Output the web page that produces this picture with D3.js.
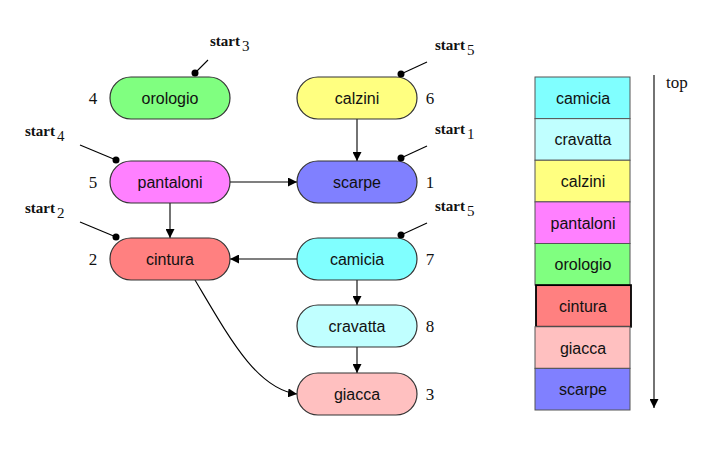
<!DOCTYPE html>
<html lang="en">
<head>
<meta charset="utf-8">
<script src="https://cdnjs.cloudflare.com/ajax/libs/d3/7.8.5/d3.min.js"></script>
<style>
body { margin: 0; background: #fff; }
.lbl { font-family: "Liberation Sans", Arial, sans-serif; font-size: 16px; fill: #111; }
.num { font-family: "Liberation Serif", "DejaVu Serif", serif; font-size: 17px; fill: #111; }
.st { font-family: "Liberation Serif", serif; font-size: 15px; font-weight: bold; fill: #111; }
.sub { font-family: "Liberation Serif", serif; font-size: 15px; fill: #111; }
</style>
</head>
<body>
<script>
// graph nodes
var names  = ["orologio", "calzini", "pantaloni", "scarpe", "cintura", "camicia", "cravatta", "giacca"];
var colors = ["#80ff80", "#ffff80", "#ff80ff", "#8080ff", "#ff8080", "#80ffff", "#c0ffff", "#ffc0c0"];
var col    = [0, 1, 0, 1, 0, 1, 1, 1];
var row    = [0, 0, 1, 1, 2, 2, 3, 4];
var finish = [4, 6, 5, 1, 2, 7, 8, 3];
var start  = [3, 5, 4, 1, 2, 5, null, null];
var edges  = [["calzini", "scarpe"], ["pantaloni", "scarpe"], ["pantaloni", "cintura"],
              ["camicia", "cintura"], ["camicia", "cravatta"], ["cravatta", "giacca"], ["cintura", "giacca"]];
// stack (top first)
var stack  = ["camicia", "cravatta", "calzini", "pantaloni", "orologio", "cintura", "giacca", "scarpe"];

var svg = d3.select("body").append("svg").attr("width", 722).attr("height", 476);

svg.append("defs").append("marker").attr("id", "ar")
  .attr("viewBox", "0 0 10 10").attr("refX", 10).attr("refY", 5)
  .attr("markerWidth", 9).attr("markerHeight", 9).attr("orient", "auto")
  .attr("markerUnits", "userSpaceOnUse")
  .append("path").attr("d", "M0,0 L10,5 L0,10 z").attr("fill", "#000");

var x = d3.scalePoint().domain([0, 1]).range([170, 357]);
var y = d3.scaleLinear().domain([0, 1, 2, 3, 4]).range([98, 182, 259, 326, 394]);
var W = 120, H = 42;
var nodes = names.map(function(n, i) {
  return {name: n, color: colors[i], x: x(col[i]), y: y(row[i]), f: finish[i], s: start[i], c: col[i]};
});
var byName = {};
nodes.forEach(function(d) { byName[d.name] = d; });

// edges
edges.forEach(function(e) {
  var a = byName[e[0]], b = byName[e[1]], path;
  if (e[0] == "cintura" && e[1] == "giacca") {
    path = "M" + (a.x + 25) + "," + (a.y + H / 2) + " C" + (a.x + 60) + "," + (a.y + 80) + " " + (b.x - 100) + "," + (b.y - 5) + " " + (b.x - W / 2) + "," + b.y;
  } else if (a.y == b.y) {
    var dir = b.x > a.x ? 1 : -1;
    path = "M" + (a.x + dir * W / 2) + "," + a.y + " L" + (b.x - dir * W / 2) + "," + b.y;
  } else {
    path = "M" + a.x + "," + (a.y + H / 2) + " L" + b.x + "," + (b.y - H / 2);
  }
  svg.append("path").attr("d", path).attr("fill", "none").attr("stroke", "#000")
    .attr("stroke-width", 1.1).attr("marker-end", "url(#ar)");
});

var g = svg.selectAll("g.node").data(nodes).enter().append("g")
  .attr("transform", function(d) { return "translate(" + d.x + "," + d.y + ")"; });
g.append("rect").attr("x", -W / 2).attr("y", -H / 2).attr("width", W).attr("height", H)
  .attr("rx", 21).attr("fill", function(d) { return d.color; })
  .attr("stroke", "#333").attr("stroke-width", 1.2);
g.append("text").attr("class", "lbl").attr("text-anchor", "middle").attr("dy", 6)
  .text(function(d) { return d.name; });
g.append("text").attr("class", "num").attr("text-anchor", "middle").attr("dy", 6)
  .attr("x", function(d) { return d.c == 0 ? -W / 2 - 17 : W / 2 + 13; })
  .text(function(d) { return d.f; });

// start markers
var sg = g.filter(function(d) { return d.s != null; });
sg.each(function(d) {
  var s = d3.select(this), dx, dy, lx, ly, tx, ty, anchor;
  if (d.name == "orologio") { dx = 25; dy = -H / 2 - 4; lx = 38; ly = -38; tx = 40; ty = -52; }
  else if (d.c == 0) { dx = -54; dy = -H / 2 - 1; lx = -90; ly = dy - 15; tx = -145; ty = dy - 24; }
  else { dx = 44; dy = -H / 2 - 3; lx = 70; ly = dy - 12; tx = 78; ty = dy - 24; }
  s.append("line").attr("x1", dx).attr("y1", dy).attr("x2", lx).attr("y2", ly)
    .attr("stroke", "#000").attr("stroke-width", 1.1);
  s.append("circle").attr("cx", dx).attr("cy", dy).attr("r", 3.5).attr("fill", "#000");
  var t = s.append("text").attr("x", tx).attr("y", ty);
  t.append("tspan").attr("class", "st").text("start");
  t.append("tspan").attr("class", "sub").attr("dx", 2).attr("dy", 5).text(d.s);
});

// stack
var sy = d3.scaleBand().domain(stack).range([77, 410]);
var cell = svg.selectAll("g.cell").data(stack).enter().append("g")
  .attr("transform", function(n) { return "translate(535," + sy(n) + ")"; });
cell.append("rect").attr("width", 95).attr("height", sy.bandwidth())
  .attr("x", function(n) { return n == "cintura" ? 1 : 0; })
  .attr("fill", function(n) { return byName[n].color; })
  .attr("stroke", function(n) { return n == "cintura" ? "#000" : "#555"; })
  .attr("stroke-width", function(n) { return n == "cintura" ? 1.8 : 1; });
cell.append("text").attr("class", "lbl").attr("text-anchor", "middle")
  .attr("x", 48).attr("y", sy.bandwidth() / 2 + 6).text(function(n) { return n; });

svg.append("path").attr("d", "M654,75 L654,408").attr("stroke", "#000")
  .attr("stroke-width", 1.1).attr("marker-end", "url(#ar)");
svg.append("text").attr("class", "num").attr("x", 666).attr("y", 88).text("top");
</script>
</body>
</html>
